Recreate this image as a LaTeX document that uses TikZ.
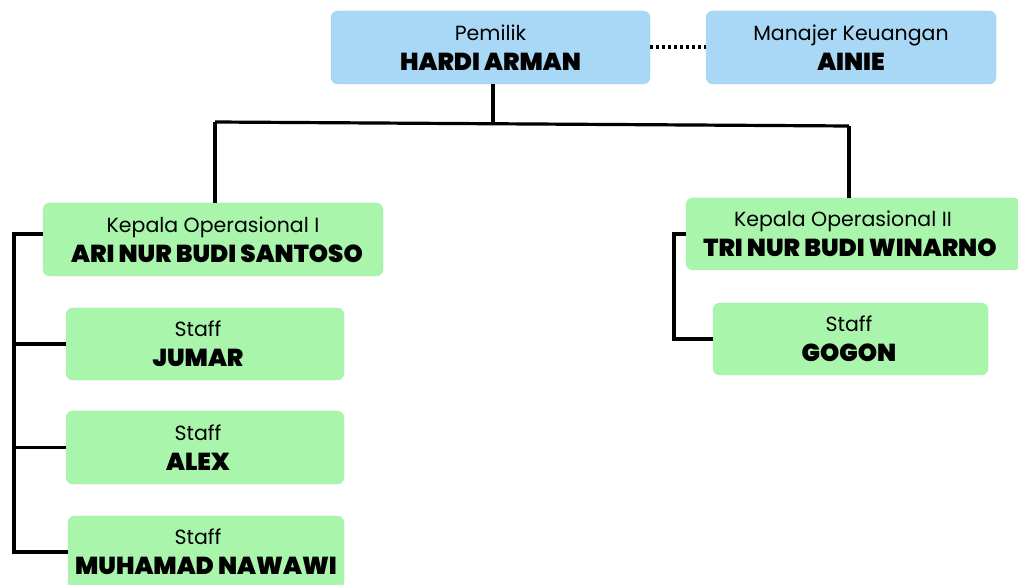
\documentclass[tikz,border=0pt]{standalone}
\usepackage{fontspec}
\setmainfont{Poppins}
\newfontfamily\heavy{Poppins Black}
\begin{document}
\begin{tikzpicture}[x=1pt,y=-1pt,
  box/.style={rounded corners=7pt, inner sep=0pt, align=center, font=\fontsize{20.5}{30}\selectfont},
  bluebox/.style={box, fill=boxblue, draw=boxblue!90!gray},
  greenbox/.style={box, fill=boxgreen, draw=boxgreen!93!gray},
  link/.style={line width=3.2pt, black},
]
\definecolor{boxblue}{HTML}{A8D8F6}
\definecolor{boxgreen}{HTML}{A8F5AB}
\useasboundingbox (0,0) rectangle (1018,585);
\newcommand\nm[1]{{\heavy\fontsize{24.5}{30}\selectfont #1}}
% boxes
\node[bluebox, minimum width=319, minimum height=73] (own) at (490.5,47.5) {Pemilik\\\nm{HARDI ARMAN}};
\node[bluebox, minimum width=290, minimum height=73] (fin) at (851,47.5) {Manajer Keuangan\\\nm{AINIE}};
\node[greenbox, minimum width=340, minimum height=73] (k1) at (213,239.5) {Kepala Operasional I\\\hspace*{8pt}\nm{ARI NUR BUDI SANTOSO}};
\node[greenbox, minimum width=334, minimum height=72] (k2) at (853,234) {Kepala Operasional II\hspace*{20pt}\\\nm{TRI NUR BUDI WINARNO}\hspace*{6pt}};
\node[greenbox, minimum width=278, minimum height=72] (s1) at (205,344) {Staff\hspace*{14pt}\\\nm{JUMAR}\hspace*{14pt}};
\node[greenbox, minimum width=278, minimum height=73] (s2) at (205,447.5) {Staff\hspace*{14pt}\\\nm{ALEX}\hspace*{14pt}};
\node[greenbox, minimum width=276, minimum height=72] (s3) at (206,552) {Staff\hspace*{16pt}\\\nm{MUHAMAD NAWAWI}};
\node[greenbox, minimum width=275, minimum height=72] (s4) at (850.5,339) {Staff\hspace*{3pt}\\\nm{GOGON}\hspace*{3pt}};
% connectors
\coordinate (hub) at (493,124);
\coordinate (hl) at (215,122);
\coordinate (hr) at (849,126);
\draw[link, line width=4pt, dash pattern=on 3pt off 3pt] (own.east) -- (fin.west);
\draw[link] (own.south -| hub) -- (hub);
\draw[link] (hl) -- (hr);
\draw[link] (hl) -- (hl |- k1.north);
\draw[link] (hr) -- (hr |- k2.north);
\coordinate (lb) at (14,234);
\draw[link] (k1.west |- lb) -- (lb) -- (lb |- s3.west) -- (s3.west);
\draw[link] (lb |- s1.west) -- (s1.west);
\draw[link] (lb |- s2.west) -- (s2.west);
\coordinate (rb) at (674,234);
\draw[link] (k2.west) -- (rb) -- (rb |- s4.west) -- (s4.west);
\end{tikzpicture}
\end{document}
